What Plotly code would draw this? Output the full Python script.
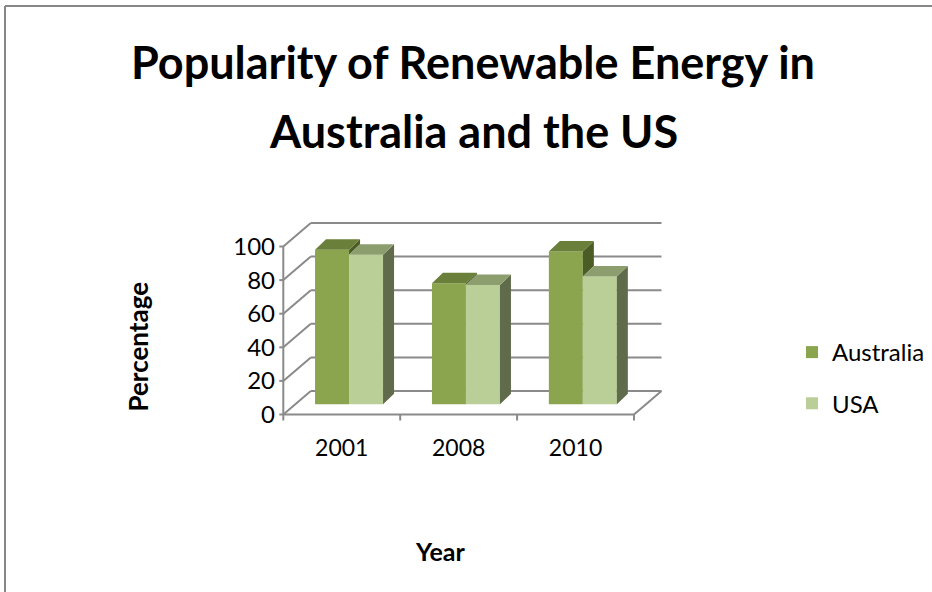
import plotly.graph_objects as go

# ---- data -------------------------------------------------------------
years = ["2001", "2008", "2010"]
australia = [92, 72, 91]
usa = [89, 71, 76]
y_tick_values = [0, 20, 40, 60, 80, 100]

# ---- page / plot-area geometry (pixels) --------------------------------
FIG_W, FIG_H = 932, 592
PLOT_L, PLOT_R, PLOT_T, PLOT_B = 278, 670, 215, 421   # plot-area edges
X0_PX, Y0_PX = 283.3, 414.5                           # front-left floor corner
PX_PER_X = 116.9                                      # one category step
PX_PER_Y = 1.68                                       # one percentage point

x_range = [-0.5 - (X0_PX - PLOT_L) / PX_PER_X, -0.5 + (PLOT_R - X0_PX) / PX_PER_X]
y_range = [-(PLOT_B - Y0_PX) / PX_PER_Y, (Y0_PX - PLOT_T) / PX_PER_Y]

# oblique depth of the wall box and of the 3-D columns, in axis units
BACK_DX, BACK_DY = 27.5 / PX_PER_X, 23.5 / PX_PER_Y
BAR_BASE = 10.2 / PX_PER_Y
BAR_W = 34 / PX_PER_X
BAR_SHIFT = 7.3 / PX_PER_X
BAR_DX, BAR_DY = 11 / PX_PER_X, 10.5 / PX_PER_Y

GRID = "#8a8a8a"
AUS = dict(front="#8BA54F", top="#6A7F39", side="#4B5C25")
US = dict(front="#B9CF97", top="#8C9D6E", side="#5F6B4B")
FONT = "Lato"

xs = list(range(len(years)))
left_edge = -0.5
right_edge = len(years) - 0.5


def px_x(p):
    return (p - PLOT_L) / (PLOT_R - PLOT_L)


def px_y(p):
    return (PLOT_B - p) / (PLOT_B - PLOT_T)


fig = go.Figure()

# ---- front faces of the columns --------------------------------------
aus_offset = BAR_SHIFT - BAR_W
us_offset = BAR_SHIFT
fig.add_trace(go.Bar(name="Australia", x=xs, y=australia, base=BAR_BASE,
                     width=BAR_W, offset=aus_offset,
                     marker=dict(color=AUS["front"], line=dict(width=0)),
                     legendgroup="aus", hoverinfo="skip"))
fig.add_trace(go.Bar(name="USA", x=xs, y=usa, base=BAR_BASE,
                     width=BAR_W, offset=us_offset,
                     marker=dict(color=US["front"], line=dict(width=0)),
                     legendgroup="usa", hoverinfo="skip"))


def poly_trace(px, py, color):
    return go.Scatter(x=px, y=py, mode="lines", fill="toself", fillcolor=color,
                      line=dict(width=0, color=color), showlegend=False,
                      hoverinfo="skip")


def top_face(x0, top):
    return ([x0, x0 + BAR_W, x0 + BAR_W + BAR_DX, x0 + BAR_DX, x0, None],
            [top, top, top + BAR_DY, top + BAR_DY, top, None])


def side_face(x1, low, top):
    return ([x1, x1 + BAR_DX, x1 + BAR_DX, x1, x1, None],
            [low, low + BAR_DY, top + BAR_DY, top, low, None])


# Australia: top faces and the part of the right side standing above the USA column
a_top_x, a_top_y, a_side_x, a_side_y = [], [], [], []
for i, (va, vu) in enumerate(zip(australia, usa)):
    x0 = i + aus_offset
    t = BAR_BASE + va
    px, py = top_face(x0, t)
    a_top_x += px
    a_top_y += py
    if va > vu:
        px, py = side_face(x0 + BAR_W, BAR_BASE + vu, t)
        a_side_x += px
        a_side_y += py
fig.add_trace(poly_trace(a_side_x, a_side_y, AUS["side"]))
fig.add_trace(poly_trace(a_top_x, a_top_y, AUS["top"]))

# USA: top and right side faces
u_top_x, u_top_y, u_side_x, u_side_y = [], [], [], []
for i, vu in enumerate(usa):
    x0 = i + us_offset
    t = BAR_BASE + vu
    px, py = top_face(x0, t)
    u_top_x += px
    u_top_y += py
    px, py = side_face(x0 + BAR_W, BAR_BASE, t)
    u_side_x += px
    u_side_y += py
fig.add_trace(poly_trace(u_side_x, u_side_y, US["side"]))
fig.add_trace(poly_trace(u_top_x, u_top_y, US["top"]))

# ---- walls, floor and tick marks --------------------------------------
shapes = []


def seg(x0, y0, x1, y1):
    shapes.append(dict(type="line", xref="x", yref="y", x0=x0, y0=y0, x1=x1, y1=y1,
                       line=dict(color=GRID, width=2), layer="below"))


for v in y_tick_values:
    seg(left_edge, v, left_edge + BACK_DX, v + BACK_DY)                    # side wall
    seg(left_edge + BACK_DX, v + BACK_DY, right_edge + BACK_DX, v + BACK_DY)  # back wall
    seg(left_edge - 4 / PX_PER_X, v, left_edge, v)                          # y tick
seg(left_edge, 0, left_edge, y_tick_values[-1])
seg(left_edge, 0, right_edge, 0)
seg(right_edge, 0, right_edge + BACK_DX, BACK_DY)
for k in range(len(years) + 1):
    xb = left_edge + k
    seg(xb, 0, xb, -6 / PX_PER_Y)

# chart border
shapes.append(dict(type="line", xref="paper", yref="paper",
                   x0=px_x(5), y0=px_y(6), x1=px_x(5), y1=px_y(600),
                   line=dict(color="#878787", width=2)))
shapes.append(dict(type="line", xref="paper", yref="paper",
                   x0=px_x(5), y0=px_y(6), x1=px_x(940), y1=px_y(6),
                   line=dict(color="#878787", width=2)))

annotations = [
    dict(text="<b>Popularity of Renewable Energy in</b>", x=px_x(473), y=px_y(62),
         xref="paper", yref="paper", showarrow=False, xanchor="center", yanchor="middle",
         font=dict(family=FONT, size=45, color="black")),
    dict(text="<b>Australia and the US</b>", x=px_x(473), y=px_y(131),
         xref="paper", yref="paper", showarrow=False, xanchor="center", yanchor="middle",
         font=dict(family=FONT, size=45, color="black")),
    dict(text="<b>Percentage</b>", x=px_x(137.5), y=px_y(347), textangle=-90,
         xref="paper", yref="paper", showarrow=False, xanchor="center", yanchor="middle",
         font=dict(family=FONT, size=26, color="black")),
    dict(text="<b>Year</b>", x=px_x(440), y=px_y(551),
         xref="paper", yref="paper", showarrow=False, xanchor="center", yanchor="middle",
         font=dict(family=FONT, size=25, color="black")),
]

fig.update_layout(
    width=FIG_W, height=FIG_H, autosize=False,
    margin=dict(l=PLOT_L, r=FIG_W - PLOT_R, t=PLOT_T, b=FIG_H - PLOT_B, pad=0,
                autoexpand=False),
    paper_bgcolor="white", plot_bgcolor="white",
    barmode="overlay",
    shapes=shapes, annotations=annotations,
    font=dict(family=FONT, color="black"),
    legend=dict(x=px_x(792), y=px_y(330), xanchor="left", yanchor="top",
                font=dict(family=FONT, size=24), tracegroupgap=17,
                traceorder="grouped", bgcolor="rgba(0,0,0,0)"),
    xaxis=dict(range=x_range, tickmode="array", tickvals=xs, ticktext=years,
               ticks="", showline=False, showgrid=False, zeroline=False,
               tickfont=dict(size=23), ticklabelstandoff=11, fixedrange=True),
    yaxis=dict(range=y_range, tickmode="array", tickvals=y_tick_values,
               ticks="", showline=False, showgrid=False, zeroline=False,
               tickfont=dict(size=24), ticklabelstandoff=2, fixedrange=True),
)

fig.write_html("out.html")
